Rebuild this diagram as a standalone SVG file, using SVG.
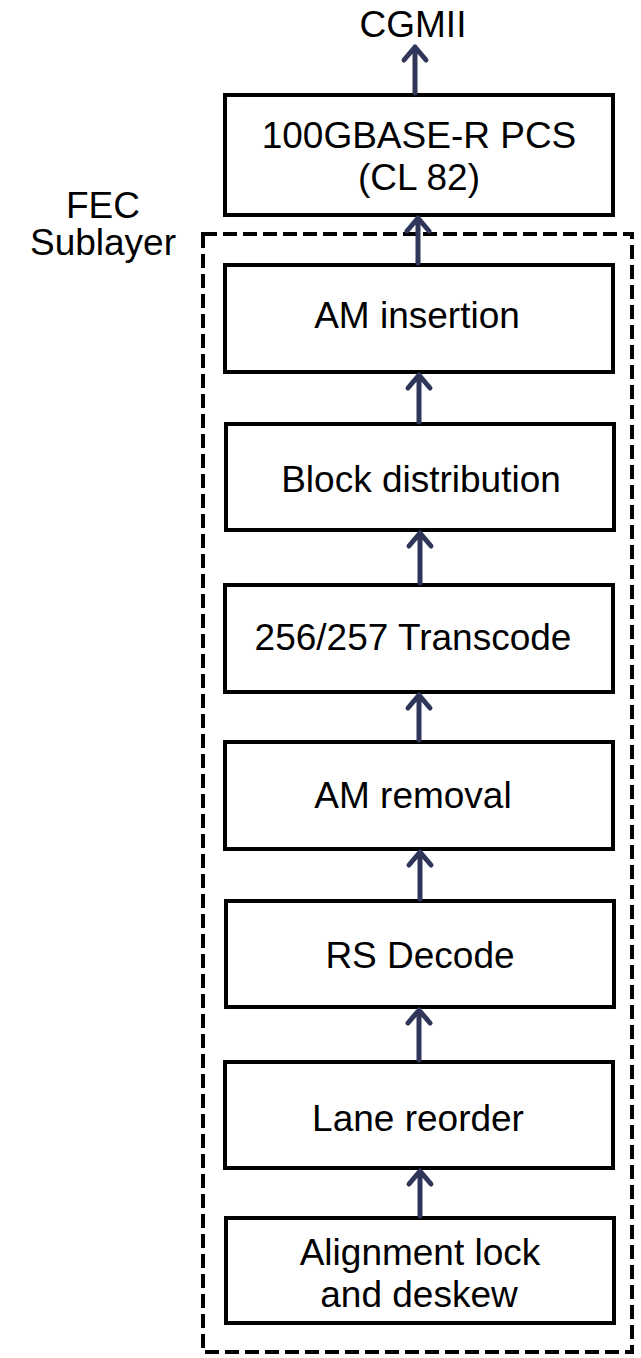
<svg xmlns="http://www.w3.org/2000/svg" width="641" height="1358" viewBox="0 0 641 1358">
  <style>
    .box { fill: #ffffff; stroke: #000000; stroke-width: 4; }
    .lbl { font-family: "Liberation Sans", Arial, sans-serif; font-size: 37px; fill: #000000; text-anchor: middle; }
    .arrow { stroke: #2f3659; stroke-width: 5; fill: none; stroke-linecap: round; stroke-linejoin: round; }
    .sub { fill: none; stroke: #000000; stroke-width: 4; stroke-dasharray: 14 6; }
  </style>
  <rect width="641" height="1358" fill="#ffffff"/>

  <!-- FEC sublayer boundary -->
  <g id="fec-sublayer">
    <rect class="sub" x="203" y="234" width="429" height="1118"/>
    <text class="lbl" x="103" y="218">FEC</text>
    <text class="lbl" x="103" y="255">Sublayer</text>
  </g>

  <g id="cgmii">
    <text class="lbl" x="413" y="37">CGMII</text>
  </g>

  <g id="pcs">
    <rect class="box" x="225" y="95" width="388" height="120"/>
    <text class="lbl" x="419" y="148">100GBASE-R PCS</text>
    <text class="lbl" x="419" y="190">(CL 82)</text>
  </g>

  <g id="am-insertion">
    <rect class="box" x="225" y="265" width="388" height="107"/>
    <text class="lbl" x="417" y="328">AM insertion</text>
  </g>

  <g id="block-distribution">
    <rect class="box" x="226" y="424" width="388" height="106"/>
    <text class="lbl" x="421" y="492">Block distribution</text>
  </g>

  <g id="transcode">
    <rect class="box" x="225" y="585" width="388" height="107"/>
    <text class="lbl" x="413" y="650">256/257 Transcode</text>
  </g>

  <g id="am-removal">
    <rect class="box" x="225" y="742" width="388" height="107"/>
    <text class="lbl" x="413" y="808">AM removal</text>
  </g>

  <g id="rs-decode">
    <rect class="box" x="226" y="901" width="388" height="106"/>
    <text class="lbl" x="420" y="968">RS Decode</text>
  </g>

  <g id="lane-reorder">
    <rect class="box" x="225" y="1062" width="388" height="106"/>
    <text class="lbl" x="418" y="1131">Lane reorder</text>
  </g>

  <g id="alignment-lock">
    <rect class="box" x="226" y="1218" width="388" height="105"/>
    <text class="lbl" x="420" y="1265">Alignment lock</text>
    <text class="lbl" x="419" y="1307">and deskew</text>
  </g>

  <!-- upward data-flow arrows -->
  <g id="connectors">
    <path class="arrow" d="M415 93 V47 M404 60 L415 47 L426 60"/>
    <path class="arrow" d="M418 263 V218 M407 231 L418 218 L429 231"/>
    <path class="arrow" d="M419 422 V375 M408 388 L419 375 L430 388"/>
    <path class="arrow" d="M420 583 V533 M409 546 L420 533 L431 546"/>
    <path class="arrow" d="M419 740 V695 M408 708 L419 695 L430 708"/>
    <path class="arrow" d="M420 899 V852 M409 865 L420 852 L431 865"/>
    <path class="arrow" d="M419 1060 V1010 M408 1023 L419 1010 L430 1023"/>
    <path class="arrow" d="M420 1216 V1171 M409 1184 L420 1171 L431 1184"/>
  </g>
</svg>
